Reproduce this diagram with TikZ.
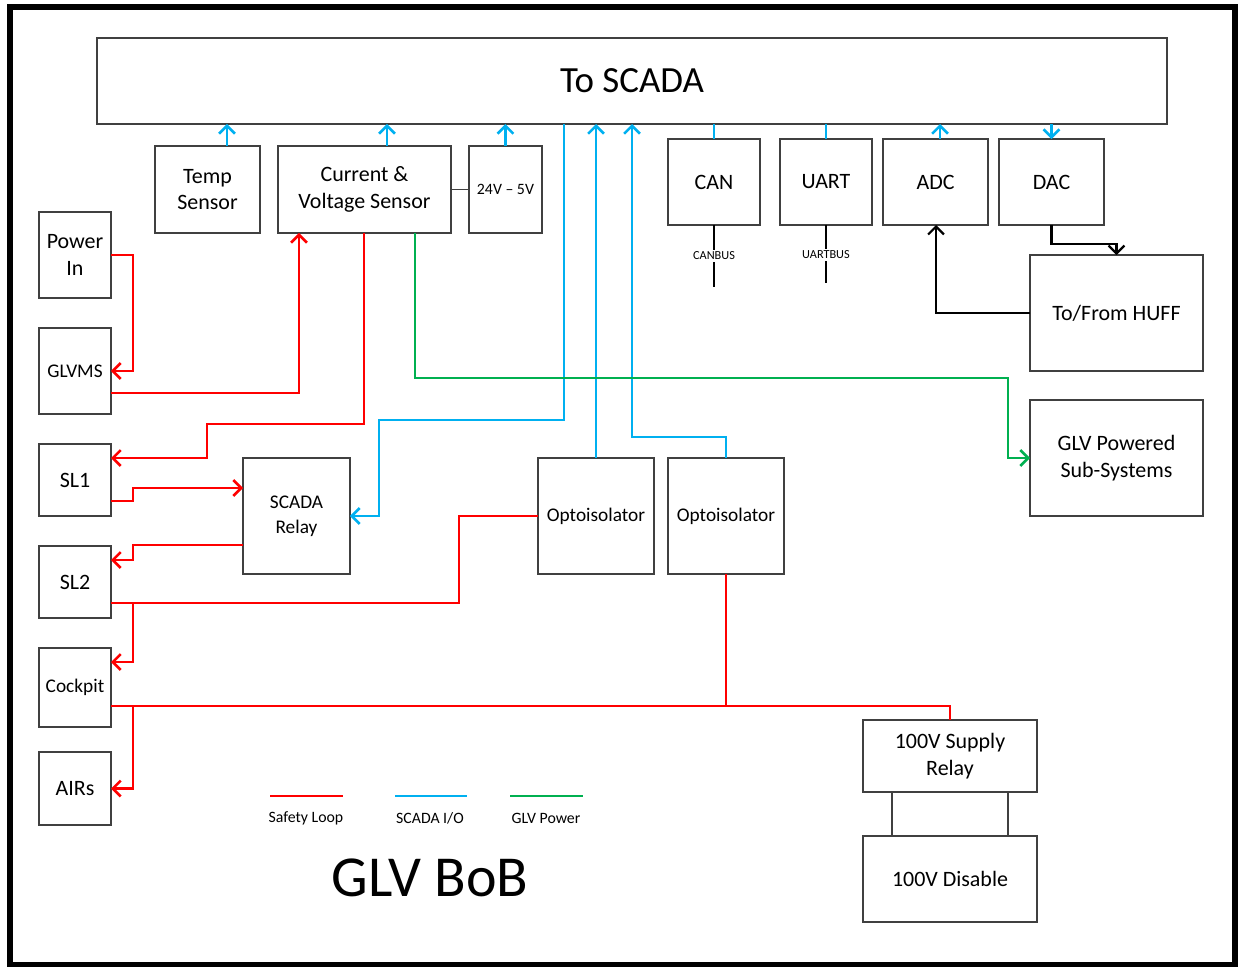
\documentclass[tikz,border=0pt]{standalone}
\usepackage{fontspec}
\setmainfont{Carlito}
\usetikzlibrary{arrows.meta,positioning}
\definecolor{sloop}{HTML}{FF0000}
\definecolor{scadaio}{HTML}{00B0F0}
\definecolor{glvpow}{HTML}{00B050}
\definecolor{boxline}{HTML}{404040}

\begin{document}
\begin{tikzpicture}[x=0.02cm,y=-0.02cm,
			>={Straight Barb[length=4.5pt,width=9pt]},
			blk/.style={draw=boxline,line width=0.9pt,inner sep=2pt,outer sep=0pt,align=center,font=\fontsize{12.5}{15}\selectfont},
			blks/.style={blk,font=\fontsize{11}{14}\selectfont},
			safe/.style={draw=sloop,line width=1.5pt},
			sio/.style={draw=scadaio,line width=1.5pt},
			gp/.style={draw=glvpow,line width=1.5pt},
			ctl/.style={draw=black,line width=1.3pt},
			tag/.style={inner sep=1pt,font=\fontsize{7}{8}\selectfont},
			key/.style={inner sep=1pt,font=\fontsize{9}{10}\selectfont}
			]
			\useasboundingbox (0,0) rectangle (1238,967);
			\draw[line width=0.11cm] (10,7) rectangle (1235,965);

			\node[blk,minimum width=21.4cm,minimum height=1.72cm,font=\fontsize{21}{24}\selectfont] (scada) at (632,81) {To SCADA};
			\node[blk,minimum width=2.1cm,minimum height=1.74cm] (temp) at (207.5,189.5) {Temp\\Sensor};
			\node[blk,minimum width=3.46cm,minimum height=1.74cm] (cvs) at (364.5,189.5) {Current \&\\Voltage Sensor};
			\node[blk,minimum width=1.46cm,minimum height=1.74cm,font=\fontsize{9}{11}\selectfont] (conv) [right=0.36cm of cvs] {24V – 5V};
			\node[blk,minimum width=1.84cm,minimum height=1.72cm] (can) at (714,182) {CAN};
			\node[blk,minimum width=1.84cm,minimum height=1.72cm] (uart) at (826,182) {UART};
			\node[blk,minimum width=2.1cm,minimum height=1.72cm] (adc) at (935.5,182) {ADC};
			\node[blk,minimum width=2.1cm,minimum height=1.72cm] (dac) at (1051.5,182) {DAC};
			\node[blk,minimum width=3.46cm,minimum height=2.32cm] (huff) at (1116.5,313) {To/From HUFF};
			\node[blk,minimum width=3.46cm,minimum height=2.32cm] (glvp) at (1116.5,458) {GLV Powered\\Sub-Systems};

			\node[blk,minimum width=1.44cm,minimum height=1.72cm] (pwr) at (75,255) {Power\\In};
			\node[blks,minimum width=1.44cm,minimum height=1.72cm] (glvms) at (75,371) {GLVMS};
			\node[blk,minimum width=1.44cm,minimum height=1.44cm] (sl1) at (75,480) {SL1};
			\node[blk,minimum width=1.44cm,minimum height=1.44cm] (sl2) at (75,582) {SL2};
			\node[blks,minimum width=1.44cm,minimum height=1.58cm] (cock) at (75,687.5) {Cockpit};
			\node[blk,minimum width=1.44cm,minimum height=1.46cm] (airs) at (75,788.5) {AIRs};

			\node[blks,minimum width=2.14cm,minimum height=2.32cm] (relay) at (296.5,516) {SCADA\\Relay};
			\node[blks,minimum width=2.32cm,minimum height=2.32cm] (opto1) at (596,516) {Optoisolator};
			\node[blks,minimum width=2.32cm,minimum height=2.32cm] (opto2) at (726,516) {Optoisolator};
			\node[blk,minimum width=3.48cm,minimum height=1.44cm] (supply) at (950,756) {100V Supply\\Relay};
			\node[blk,minimum width=3.48cm,minimum height=1.72cm] (dis) at (950,879) {100V Disable};

			\node[tag] (canbus) at (714,256) {CANBUS};
			\node[tag] (uartbus) at (826,255) {UARTBUS};
			\coordinate (canend) at (714,287);
			\coordinate (uartend) at (826,283);
			\coordinate (j1) at (133,603);
			\coordinate (j2) at (133,706);

			\draw[blk] (cvs.east) -- (conv.west);
			\draw[blk] (supply.south -| 892,0) -- (dis.north -| 892,0);
			\draw[blk] (supply.south -| 1008,0) -- (dis.north -| 1008,0);

			\draw[safe,->] (pwr.east) -- ++(22,0) |- (glvms.east);
			\draw[safe,->] (glvms.east |- 0,393) -| (cvs.south -| 299,0);
			\draw[safe,->] (cvs.south -| 364,0) |- (207,424) |- (sl1.east |- 0,458);
			\draw[safe,->] (sl1.east |- 0,501) -| (133,488) -- (relay.west |- 0,488);
			\draw[safe,->] (relay.west |- 0,545) -| (133,560) -- (sl2.east |- 0,560);
			\draw[safe] (sl2.east |- 0,603) -| (459,516) -- (opto1.west);
			\draw[safe,->] (j1) |- (cock.east |- 0,662);
			\draw[safe] (cock.east |- 0,706) -| (supply.north);
			\draw[safe] (opto2.south) -- (opto2.south |- j2);
			\draw[safe,->] (j2) |- (airs.east);

			\draw[sio,->] (temp.north -| 227,0) -- (scada.south -| 227,0);
			\draw[sio,->] (cvs.north -| 387,0) -- (scada.south -| 387,0);
			\draw[sio,->] (conv.north) -- (scada.south -| conv.north);
			\draw[sio,->] (scada.south -| 564,0) |- (379,420) |- (relay.east);
			\draw[sio,->] (opto1.north) -- (scada.south -| opto1.north);
			\draw[sio,->] (opto2.north) |- (632,437) -- (scada.south -| 632,0);
			\draw[sio] (can.north) -- (scada.south -| can.north);
			\draw[sio] (uart.north) -- (scada.south -| uart.north);
			\draw[sio,->] (adc.north -| 940,0) -- (scada.south -| 940,0);
			\draw[sio,->] (scada.south -| dac.north) -- (dac.north);

			\draw[gp,->] (cvs.south -| 415,0) |- (1008,378) |- (glvp.west);

			\draw[ctl] (can.south) -- (canbus.north);
			\draw[ctl] (canbus.south) -- (canend);
			\draw[ctl] (uart.south) -- (uartbus.north);
			\draw[ctl] (uartbus.south) -- (uartend);
			\draw[ctl,->] (dac.south) -- ++(0,19) -| (huff.north);
			\draw[ctl,->] (huff.west) -| (adc.south -| 936,0);

			\draw[safe] (270,796) -- (343,796);
			\draw[sio] (395,796) -- (467,796);
			\draw[gp] (510,796) -- (583,796);
			\node[key] (kred) at (306,818) {Safety Loop};
			\node[key] (kblue) at (430,818) {SCADA I/O};
			\node[key] (kgreen) at (546,818) {GLV Power};
			\node[font=\fontsize{33}{36}\selectfont] (title) at (430,878) {GLV BoB};
		\end{tikzpicture}
\end{document}
